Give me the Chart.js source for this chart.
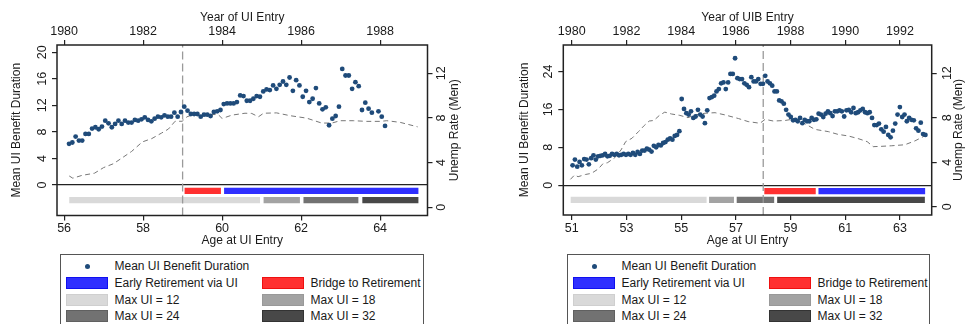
<!DOCTYPE html>
<html><head><meta charset="utf-8">
<script src="https://cdn.jsdelivr.net/npm/chart.js@4"></script>
<style>
html,body{margin:0;padding:0;background:#fff;}
body{width:965px;height:324px;overflow:hidden;position:relative;font-family:"Liberation Sans",Arial,Helvetica,sans-serif;color:#1a1a1a;}
canvas{position:absolute;top:0;}
#c1{left:0;} #c2{left:482px;}
.legend{position:absolute;top:254px;height:90px;border:1px solid #555;box-sizing:border-box;background:#fff;font-size:12px;}
.legend .it{position:absolute;height:14px;line-height:14px;white-space:nowrap;}
.legend .sw{position:absolute;width:40px;height:10px;border:1px solid;}
.legend .dot{position:absolute;width:5px;height:5px;border-radius:50%;background:#1f4b7a;}
</style>
</head><body>
<canvas id="c1" width="482" height="324"></canvas>
<canvas id="c2" width="483" height="324"></canvas>
<div id="leg1" class="legend" style="left:60px;width:364px;"></div>
<div id="leg2" class="legend" style="left:567px;width:363px;"></div>
<script>
// ---------------- DATA ----------------
// Left panel: monthly mean UI benefit duration by age at UI entry
const leftFirstAge = 56.125;
const leftDuration = [6.2,6.4,7.3,6.7,6.7,7.7,7.7,8.5,8.7,8.4,8.8,9.7,9.3,8.7,9.2,9.7,9.2,9.7,9.4,9.4,
  9.8,9.7,9.9,10.2,9.8,9.6,10.0,10.3,10.2,10.5,10.3,10.3,10.9,10.3,11.0,11.8,11.2,10.7,10.7,10.7,
  10.3,10.6,10.6,10.4,11.0,11.1,11.3,12.2,12.3,12.3,12.3,12.5,13.5,13.4,12.7,12.7,13.0,13.4,13.3,14.1,
  14.4,14.3,15.0,14.5,15.1,15.6,15.1,16.2,14.2,15.8,15.0,13.3,14.2,12.5,13.0,14.6,12.3,11.4,11.7,9.0,
  10.0,10.4,11.8,17.5,16.5,16.5,14.5,15.5,14.9,11.3,12.4,11.5,10.9,null,11.1,10.3,8.9];
const leftUnempAges = [56.13,56.22,56.45,56.77,57.0,57.25,57.46,57.71,57.98,58.22,58.47,58.64,58.81,58.99,59.11,59.4,59.74,59.9,60.0,60.25,60.58,60.75,60.92,61.05,61.38,61.72,62.14,62.52,62.78,62.99,63.32,63.66,64.0,64.17,64.51,64.95];
const leftUnemp = [2.8,2.6,2.85,3.05,3.55,3.9,4.4,5.0,5.85,6.15,6.65,7.0,7.7,7.7,8.1,8.45,8.3,8.3,7.95,8.25,8.42,8.4,8.1,8.42,8.45,8.2,7.98,7.54,7.54,7.75,7.75,7.69,7.69,7.75,7.6,7.2];
const leftPolicyAge = 59;
const leftBridge = [59.05, 59.97];
const leftEarly = [60.05, 64.97];
const leftMax12 = [56.13, 60.96];
const leftMax18 = [61.05, 61.97];
const leftMax24 = [62.06, 63.45];
const leftMax32 = [63.55, 64.97];
const leftAgeTicks = [56,58,60,62,64];
const leftYearTicks = [1980,1982,1984,1986,1988];
const leftDurTicks = [0,4,8,12,16,20];
const unempTicks = [0,4,8,12];

// Right panel
const rightFirstAge = 51.03, rightLastAge = 63.93;
const rightDuration = [4.2,5.4,3.9,4.9,4.2,5.5,5.4,4.4,5.7,6.3,5.4,6.1,6.2,6.3,6.6,6.1,6.2,6.6,6.4,6.6,
  6.3,6.4,6.6,6.4,6.6,6.4,6.8,6.4,7.0,6.6,7.3,7.3,7.7,7.5,7.1,8.3,8.0,8.5,8.4,8.9,
  9.1,9.6,9.9,9.6,10.4,10.6,11.4,18.2,16.1,15.2,14.9,15.6,14.2,14.5,15.9,14.9,14.5,13.1,15.8,18.4,
  18.6,18.9,19.8,20.3,21.5,21.7,20.3,21.7,23.5,23.5,26.8,22.6,22.4,22.4,21.5,21.2,20.7,22.8,21.9,21.9,
  22.4,21.4,21.4,23.1,21.9,21.5,21.0,19.8,19.8,17.9,17.7,17.2,15.9,14.9,14.4,13.7,13.8,13.5,14.2,13.1,
  13.8,13.5,13.5,14.2,13.8,13.9,15.1,14.9,14.4,15.1,15.6,15.2,14.6,15.6,15.6,15.8,15.6,14.5,15.8,15.9,
  15.4,16.3,15.2,15.4,15.8,16.1,15.4,15.2,15.4,14.2,12.7,12.7,13.0,11.8,11.3,12.3,10.6,10.1,11.5,13.0,
  14.9,16.5,14.4,14.9,13.5,14.2,13.8,13.7,12.0,11.5,13.2,10.8,10.6];
const rightUnempAges = [50.95,51.1,51.23,51.5,51.72,51.97,52.14,52.3,52.57,52.8,52.97,53.2,53.44,53.65,53.83,54.0,54.2,54.4,54.65,54.95,55.25,55.5,55.87,56.24,56.6,57.1,57.45,57.88,58.07,58.37,58.8,59.16,59.53,59.89,60.38,60.74,61.11,61.5,61.8,62.02,62.26,62.7,63.18,63.55,63.93];
const rightUnemp = [2.46,2.85,2.7,2.9,3.0,3.4,3.87,3.95,4.4,5.1,5.85,6.15,6.75,7.3,7.7,7.75,8.2,8.5,8.33,8.21,8.0,8.25,8.4,8.45,8.25,7.92,7.65,7.5,7.85,7.7,7.75,7.9,7.45,6.95,6.75,6.5,6.36,6.1,5.85,5.4,5.42,5.48,5.57,5.92,6.4];
const rightPolicyAge = 58;
const rightBridge = [58.04, 59.92];
const rightEarly = [60.02, 63.92];
const rightMax12 = [50.96, 55.93];
const rightMax18 = [56.02, 56.93];
const rightMax24 = [57.03, 58.40];
const rightMax32 = [58.51, 63.91];
const rightAgeTicks = [51,53,55,57,59,61,63];
const rightYearTicks = [1980,1982,1984,1986,1988,1990,1992];
const rightDurTicks = [0,8,16,24];

// ---------------- STYLES ----------------
const DOT = '#1f4b7a';
const FONT = '"Liberation Sans", Arial, Helvetica, sans-serif';
const barStyles = {
  bridge:{color:'#ff3030'}, early:{color:'#2f2fff'},
  m12:{color:'#d9d9d9'}, m18:{color:'#a3a3a3'}, m24:{color:'#727272'}, m32:{color:'#484848'}
};

function seg(range, y, style, width){
  return {type:'line', data:[{x:range[0],y:y},{x:range[1],y:y}], borderColor:style.color,
    borderWidth:width, pointRadius:0, borderCapStyle:'butt', showLine:true,
    xAxisID:'x', yAxisID:'y', order:5};
}

function decor(cfg){
  return {id:'decor', afterDraw(chart){
    const ctx = chart.ctx, a = chart.chartArea, S = chart.scales;
    ctx.save();
    ctx.fillStyle = '#1a1a1a';
    ctx.textAlign = 'center'; ctx.textBaseline = 'middle';
    const rot = (t,x,y)=>{ctx.save();ctx.translate(x,y);ctx.rotate(-Math.PI/2);ctx.fillText(t,0,0);ctx.restore();};
    ctx.font = '12.5px ' + FONT;
    S.x.ticks.forEach(t=>ctx.fillText(String(t.value), S.x.getPixelForValue(t.value), cfg.bottomLabelY));
    S.x2.ticks.forEach(t=>ctx.fillText(String(t.value), S.x2.getPixelForValue(t.value), cfg.topLabelY));
    S.y.ticks.forEach(t=>rot(String(t.value), cfg.yLabelX, S.y.getPixelForValue(t.value)));
    S.y2.ticks.forEach(t=>rot(String(t.value), cfg.y2LabelX, S.y2.getPixelForValue(t.value)));
    ctx.font = '12px ' + FONT;
    const cx = (a.left+a.right)/2, cy = (a.top+a.bottom)/2;
    ctx.fillText(cfg.xTitle, cx, cfg.bottomTitleY);
    ctx.fillText(cfg.x2Title, cx, cfg.topTitleY);
    rot(cfg.yTitle, cfg.yTitleX, cy);
    rot(cfg.y2Title, cfg.y2TitleX, cy);
    ctx.strokeStyle = '#222'; ctx.lineWidth = 1.5;
    ctx.strokeRect(a.left, a.top, a.right-a.left, a.bottom-a.top);
    ctx.restore();
  }};
}

function axis(pos, min, max, ticks, extra){
  return Object.assign({type:'linear', position:pos, min:min, max:max,
    afterBuildTicks: s => { s.ticks = ticks.map(v=>({value:v})); },
    ticks:{display:false}, border:{display:false},
    title:{display:false},
    grid:{display:true, drawOnChartArea:false, drawTicks:true, tickLength:5, color:'#222', tickColor:'#222', lineWidth:1.2}
  }, extra||{});
}

function build(id, p){
  const dur = p.duration.map((v,i)=>({x: p.ageAt(i), y: v}));
  const unemp = p.unempAges.map((a,i)=>({x:a, y:p.unemp[i]}));
  const datasets = [
    {type:'scatter', data:dur, pointRadius:2.4, pointBackgroundColor:DOT, pointBorderWidth:0, showLine:false, xAxisID:'x', yAxisID:'y', order:1},
    {type:'line', data:[{x:p.policyAge,y:p.yMin},{x:p.policyAge,y:p.yMax}], borderColor:'#9a9a9a', borderWidth:1.3, borderDash:[8,4], pointRadius:0, showLine:true, xAxisID:'x', yAxisID:'y', order:2},
    {type:'line', data:unemp, borderColor:'#777', borderWidth:1, borderDash:[5,3.5], pointRadius:0, showLine:true, tension:0, xAxisID:'x', yAxisID:'y2', order:3},
    seg(p.bridge, p.redY, barStyles.bridge, p.barW),
    seg(p.early, p.redY, barStyles.early, p.barW),
    seg(p.m12, p.grayY, barStyles.m12, p.barW),
    seg(p.m18, p.grayY, barStyles.m18, p.barW),
    seg(p.m24, p.grayY, barStyles.m24, p.barW),
    seg(p.m32, p.grayY, barStyles.m32, p.barW)
  ];
  return new Chart(document.getElementById(id), {
    type:'scatter',
    data:{datasets},
    options:{
      responsive:false, animation:false, devicePixelRatio:1,
      layout:{padding:p.padding},
      plugins:{legend:{display:false}, tooltip:{enabled:false}},
      scales:{
        x: axis('bottom', p.xMin, p.xMax, p.ageTicks),
        x2: axis('top', p.xMin + p.yearOffset, p.xMax + p.yearOffset, p.yearTicks),
        y: axis('left', p.yMin, p.yMax, p.durTicks, {grid:{display:true, drawOnChartArea:true, drawTicks:true, tickLength:5,
            color: c => (c.tick && c.tick.value === 0) ? '#222' : 'rgba(0,0,0,0)', tickColor:'#222', lineWidth:1.2}}),
        y2: axis('right', -0.74, 14.53, unempTicks)
      }
    },
    plugins:[decor(p.labels)]
  });
}

build('c1', {
  duration:leftDuration, ageAt:i=>leftFirstAge + i/12,
  unempAges:leftUnempAges, unemp:leftUnemp, policyAge:leftPolicyAge,
  bridge:leftBridge, early:leftEarly, m12:leftMax12, m18:leftMax18, m24:leftMax24, m32:leftMax32,
  redY:-0.9, grayY:-2.27, barW:6.3,
  xMin:55.82, xMax:65.2, yearOffset:1924, yMin:-4.6, yMax:21.1,
  ageTicks:leftAgeTicks, yearTicks:leftYearTicks, durTicks:leftDurTicks,
  padding:{left:52, right:49.5, top:40, bottom:103.5},
  labels:{bottomLabelY:228.5, topLabelY:31.7, bottomTitleY:240.7, topTitleY:17.3,
    yLabelX:42.3, y2LabelX:442, yTitleX:16.7, y2TitleX:454.5,
    xTitle:'Age at UI Entry', x2Title:'Year of UI Entry', yTitle:'Mean UI Benefit Duration', y2Title:'Unemp Rate (Men)'}
});

const rStep = (rightLastAge - rightFirstAge) / (rightDuration.length - 1);
build('c2', {
  duration:rightDuration, ageAt:i=>rightFirstAge + i*rStep,
  unempAges:rightUnempAges, unemp:rightUnemp, policyAge:rightPolicyAge,
  bridge:rightBridge, early:rightEarly, m12:rightMax12, m18:rightMax18, m24:rightMax24, m32:rightMax32,
  redY:-1.27, grayY:-3.1, barW:6.3,
  xMin:50.69, xMax:64.16, yearOffset:1929, yMin:-6.3, yMax:29.6,
  ageTicks:rightAgeTicks, yearTicks:rightYearTicks, durTicks:rightDurTicks,
  padding:{left:76.3, right:28.3, top:40, bottom:104},
  labels:{bottomLabelY:228.5, topLabelY:31.7, bottomTitleY:240.7, topTitleY:17.3,
    yLabelX:66.3, y2LabelX:465.5, yTitleX:42.3, y2TitleX:477,
    xTitle:'Age at UI Entry', x2Title:'Year of UIB Entry', yTitle:'Mean UI Benefit Duration', y2Title:'Unemp Rate (Men)'}
});

// ---------------- LEGENDS ----------------
const legendItems = [
  {label:'Mean UI Benefit Duration', kind:'dot', col:0, row:0},
  {label:'Early Retirement via UI', kind:'early', col:0, row:1},
  {label:'Bridge to Retirement', kind:'bridge', col:1, row:1},
  {label:'Max UI = 12', kind:'m12', col:0, row:2},
  {label:'Max UI = 18', kind:'m18', col:1, row:2},
  {label:'Max UI = 24', kind:'m24', col:0, row:3},
  {label:'Max UI = 32', kind:'m32', col:1, row:3}
];
const swBorder = {early:'#1010ee', bridge:'#ee1010', m12:'#cfcfcf', m18:'#999', m24:'#606060', m32:'#333'};
function fillLegend(id){
  const box = document.getElementById(id);
  const rowY = [11, 28, 44.7, 61.4];
  legendItems.forEach(it=>{
    const cy = rowY[it.row];
    const baseX = it.col === 0 ? 5 : 201;
    if (it.kind === 'dot') {
      const d = document.createElement('div'); d.className='dot';
      d.style.left = (baseX + 18.5) + 'px'; d.style.top = (cy - 2.5) + 'px'; box.appendChild(d);
    } else {
      const s = document.createElement('div'); s.className='sw';
      s.style.left = baseX + 'px'; s.style.top = (cy - 6) + 'px';
      s.style.background = barStyles[it.kind].color; s.style.borderColor = swBorder[it.kind];
      box.appendChild(s);
    }
    const t = document.createElement('div'); t.className='it';
    t.style.left = (baseX + 48.5) + 'px'; t.style.top = (cy - 7) + 'px';
    t.textContent = it.label; box.appendChild(t);
  });
}
fillLegend('leg1'); fillLegend('leg2');
</script>
</body></html>
